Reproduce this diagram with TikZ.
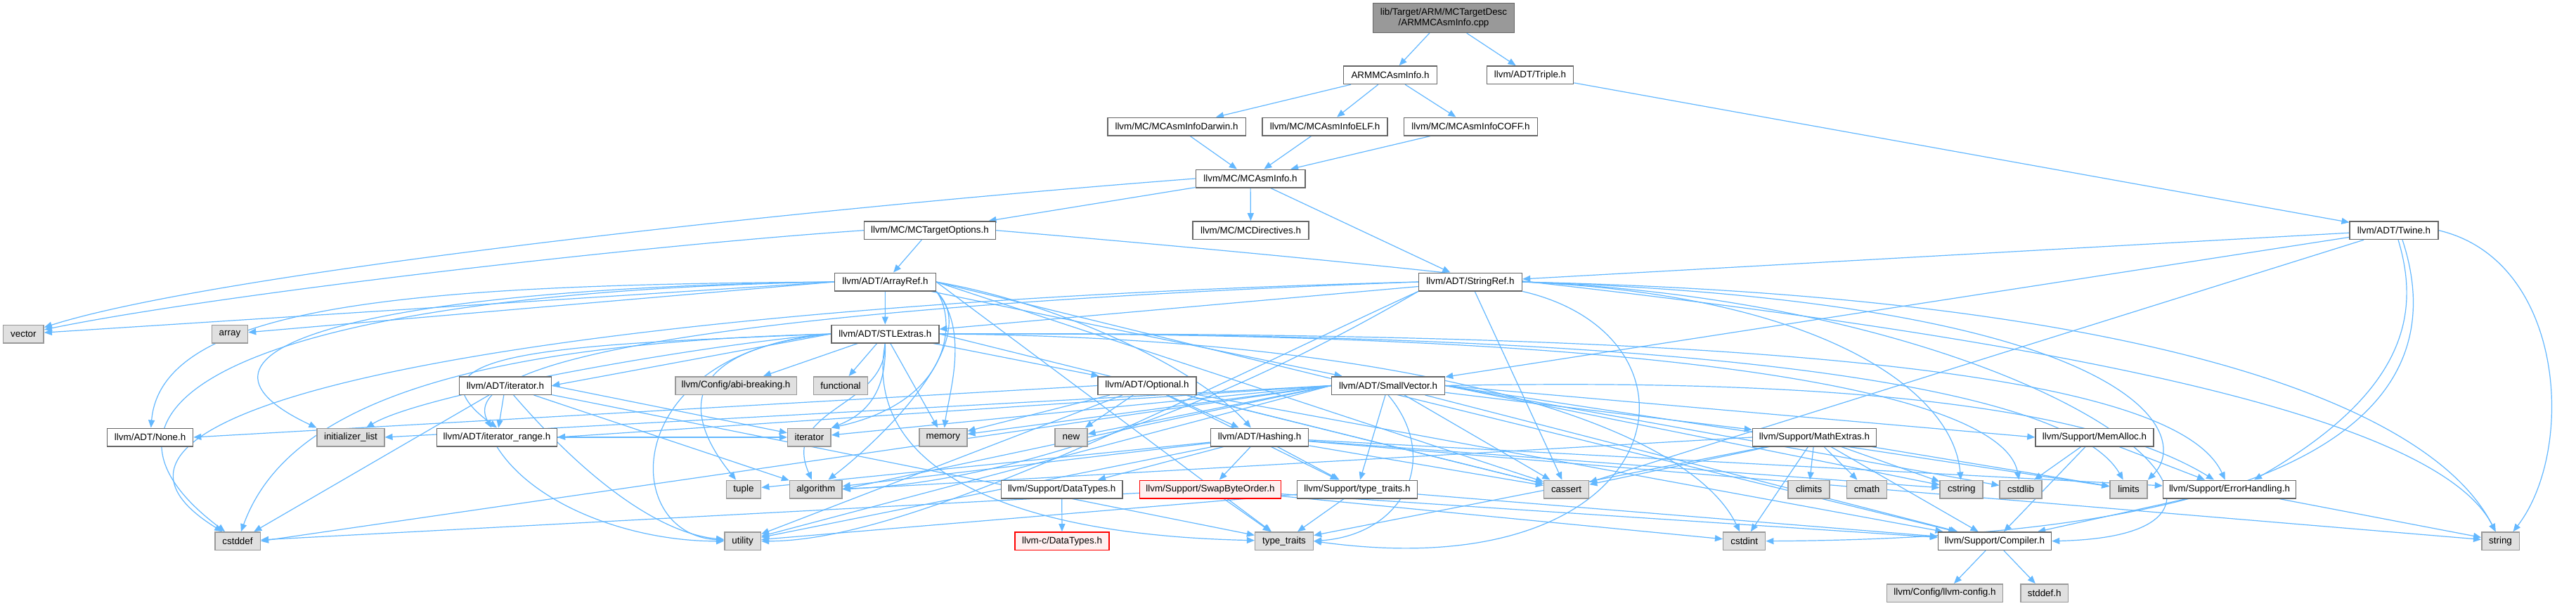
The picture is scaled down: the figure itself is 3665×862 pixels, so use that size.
\documentclass[tikz,border=0pt]{standalone}
\usepackage{fontspec}
\setmainfont{Liberation Sans}
\usetikzlibrary{arrows.meta}
\pgfdeclarelayer{bg}
\pgfdeclarelayer{edges}
\pgfsetlayers{bg,edges,main}
\definecolor{edgec}{HTML}{63B8FF}
\definecolor{nborder}{HTML}{666666}
\definecolor{gborder}{HTML}{999999}
\definecolor{gfill}{HTML}{E0E0E0}
\definecolor{mfill}{HTML}{999999}
\definecolor{rborder}{HTML}{FF0000}
\definecolor{rfill}{HTML}{FFF0F0}
\begin{document}
\begin{tikzpicture}[x=1pt,y=-1pt,
 base/.style={draw, line width=1.5pt, minimum height=25.5pt, inner sep=0pt, font=\fontsize{13.4}{15}\selectfont, anchor=center},
 wnode/.style={base, draw=nborder, fill=white},
 gnode/.style={base, draw=gborder, fill=gfill},
 rnode/.style={base, draw=rborder, fill=rfill},
 mnode/.style={base, draw=nborder, fill=mfill, minimum height=41.6pt, align=center},
 e/.style={draw=edgec, line width=1.2pt, -{Triangle[length=11pt,width=9pt]}}]
\begin{pgfonlayer}{bg}
\fill[white] (0,0) rectangle (3665,862);
\end{pgfonlayer}
\useasboundingbox (0,0) rectangle (3665,862);
% nodes
\node[mnode, minimum width=201pt] (main) at (2054,25.5) {lib/Target/ARM/MCTargetDesc\\/ARMMCAsmInfo.cpp};
\node[wnode, minimum width=133pt] (armh) at (1978,106.7) {ARMMCAsmInfo.h};
\node[wnode, minimum width=123pt] (triple) at (2177,106.7) {llvm/ADT/Triple.h};
\node[wnode, minimum width=196.5pt] (darwin) at (1674,180) {llvm/MC/MCAsmInfoDarwin.h};
\node[wnode, minimum width=178pt] (elf) at (1885,180) {llvm/MC/MCAsmInfoELF.h};
\node[wnode, minimum width=190pt] (coff) at (2092.5,180) {llvm/MC/MCAsmInfoCOFF.h};
\node[wnode, minimum width=155.5pt] (mcasm) at (1779,254) {llvm/MC/MCAsmInfo.h};
\node[wnode, minimum width=187pt] (mcto) at (1323,327.7) {llvm/MC/MCTargetOptions.h};
\node[wnode, minimum width=165pt] (mcdir) at (1779.5,327.7) {llvm/MC/MCDirectives.h};
\node[wnode, minimum width=125.6pt] (twine) at (3406,327.7) {llvm/ADT/Twine.h};
\node[wnode, minimum width=144pt] (arrayref) at (1259.4,401) {llvm/ADT/ArrayRef.h};
\node[wnode, minimum width=147pt] (stringref) at (2092,401) {llvm/ADT/StringRef.h};
\node[gnode, minimum width=57.5pt] (vector) at (33.4,475) {vector};
\node[gnode, minimum width=51pt] (array) at (327,475) {array};
\node[wnode, minimum width=153pt] (stlextras) at (1259.3,475) {llvm/ADT/STLExtras.h};
\node[wnode, minimum width=131pt] (iterh) at (719,548.5) {llvm/ADT/iterator.h};
\node[gnode, minimum width=172.5pt] (abi) at (1047,548.5) {llvm/Config/abi-breaking.h};
\node[gnode, minimum width=77.4pt] (functional) at (1196,548.5) {functional};
\node[wnode, minimum width=139.6pt] (optional) at (1632,548.5) {llvm/ADT/Optional.h};
\node[wnode, minimum width=161pt] (smallvec) at (1975,548.5) {llvm/ADT/SmallVector.h};
\node[wnode, minimum width=122pt] (noneh) at (213.6,622) {llvm/ADT/None.h};
\node[gnode, minimum width=95.6pt] (initlist) at (499,622) {initializer\_list};
\node[wnode, minimum width=170.7pt] (iterrange) at (707,622) {llvm/ADT/iterator\_range.h};
\node[gnode, minimum width=61.6pt] (iterator) at (1151.4,622) {iterator};
\node[gnode, minimum width=68pt] (memory) at (1341.8,622) {memory};
\node[gnode, minimum width=45.8pt] (new) at (1524,622) {new};
\node[wnode, minimum width=139pt] (hashing) at (1792,622) {llvm/ADT/Hashing.h};
\node[wnode, minimum width=176pt] (mathext) at (2581.5,622) {llvm/Support/MathExtras.h};
\node[wnode, minimum width=168pt] (memalloc) at (2980,622) {llvm/Support/MemAlloc.h};
\node[gnode, minimum width=49.3pt] (tuple) at (1058,696) {tuple};
\node[gnode, minimum width=74.5pt] (algorithm) at (1160.8,696) {algorithm};
\node[wnode, minimum width=172.5pt] (datatypes) at (1510.7,696) {llvm/Support/DataTypes.h};
\node[rnode, minimum width=200.7pt] (swap) at (1722,696) {llvm/Support/SwapByteOrder.h};
\node[wnode, minimum width=170.7pt] (sttraits) at (1931,696) {llvm/Support/type\_traits.h};
\node[gnode, minimum width=64pt] (cassert) at (2228.6,696) {cassert};
\node[gnode, minimum width=59pt] (climits) at (2573.6,696) {climits};
\node[gnode, minimum width=57pt] (cmath) at (2656,696) {cmath};
\node[gnode, minimum width=61pt] (cstring) at (2790.7,696) {cstring};
\node[gnode, minimum width=59.7pt] (cstdlib) at (2875,696) {cstdlib};
\node[gnode, minimum width=53pt] (limits) at (3028.5,696) {limits};
\node[wnode, minimum width=189pt] (errh) at (3172,696) {llvm/Support/ErrorHandling.h};
\node[gnode, minimum width=64.5pt] (cstddef) at (338,769.7) {cstddef};
\node[gnode, minimum width=51.6pt] (utility) at (1056.6,769.7) {utility};
\node[rnode, minimum width=134.4pt] (cdatatypes) at (1511,769.7) {llvm-c/DataTypes.h};
\node[gnode, minimum width=82.7pt] (typetraits) at (1827,769.7) {type\_traits};
\node[gnode, minimum width=60pt] (cstdint) at (2481.7,769.7) {cstdint};
\node[wnode, minimum width=161pt] (compiler) at (2838,769.7) {llvm/Support/Compiler.h};
\node[gnode, minimum width=53.5pt] (string) at (3557.5,769.7) {string};
\node[gnode, minimum width=165pt] (llvmconfig) at (2767,843.5) {llvm/Config/llvm-config.h};
\node[gnode, minimum width=67.7pt] (stddef) at (2908.7,843.5) {stddef.h};
\begin{pgfonlayer}{edges}
% top part
\draw[e] (main) -- (armh);
\draw[e] (main) -- (triple);
\draw[e] (armh) -- (darwin);
\draw[e] (armh) -- (elf);
\draw[e] (armh) -- (coff);
\draw[e] (darwin) -- (mcasm);
\draw[e] (elf) -- (mcasm);
\draw[e] (coff) -- (mcasm);
\draw[e] (triple) -- (twine);
\draw[e] (mcasm) -- (mcto);
\draw[e] (mcasm) -- (mcdir);
\draw[e] (mcasm) -- (stringref);
\draw[e] (mcasm.west) .. controls (1100,300) and (300,390) .. (vector);
\draw[e] (mcto.west) .. controls (900,350) and (300,420) .. (vector);
\draw[e] (mcto) -- (arrayref);
\draw[e] (mcto.east) .. controls (2700,436) and (3450,560) .. (string);
% twine
\draw[e] (twine) -- (stringref);
\draw[e] (twine) -- (smallvec);
\draw[e] (twine) -- (cassert);
\draw[e] ([xshift=6pt]twine.south) .. controls (3445,450) and (3420,560) .. ([xshift=35pt]errh.north);
\draw[e] ([xshift=12pt]twine.south) .. controls (3490,560) and (3330,765) .. (cstdint.east);
\draw[e] (twine.east) .. controls (3650,370) and (3665,640) .. ([xshift=18pt]string.north);
% arrayref
\draw[e] (arrayref) -- (stlextras);
\draw[e] (arrayref) -- (smallvec);
\draw[e] (arrayref.east) .. controls (1500,430) and (1700,520) .. (hashing);
\draw[e] (arrayref.west) .. controls (600,405) and (230,430) .. (noneh);
\draw[e] (arrayref.west) -- (array);
\draw[e] (arrayref.west) -- (vector);
\draw[e] (arrayref.west) .. controls (500,410) and (220,500) .. (initlist.north west);
\draw[e] (arrayref.west) .. controls (400,415) and (60,560) .. (cstddef);
\draw[e] (arrayref.south east) .. controls (1360,450) and (1360,570) .. (iterator.north east);
\draw[e] (arrayref.south east) .. controls (1380,470) and (1350,560) .. (memory);
\draw[e] (arrayref.south east) .. controls (1400,480) and (1260,620) .. (algorithm);
\draw[e] (arrayref.east) -- (cassert);
\draw[e] (arrayref.east) -- (typetraits);
\draw[e] (arrayref.east) -- (compiler);
% stlextras
\draw[e] (stlextras) -- (optional);
\draw[e] (stlextras.west) -- (iterh.east);
\draw[e] (stlextras.west) .. controls (800,490) and (560,500) .. (iterrange.north);
\draw[e] (stlextras) -- (abi);
\draw[e] (stlextras) -- (functional);
\draw[e] (stlextras.east) .. controls (2600,470) and (3100,540) .. (errh);
\draw[e] (stlextras.south) .. controls (1262,580) and (1110,580) .. (algorithm);
\draw[e] (stlextras.east) -- (cassert);
\draw[e] (stlextras.west) .. controls (600,490) and (400,600) .. (cstddef);
\draw[e] (stlextras.east) .. controls (2000,480) and (2400,600) .. (cstdint);
\draw[e] (stlextras.east) .. controls (2400,470) and (2850,560) .. (cstdlib);
\draw[e] (stlextras.west) .. controls (1000,490) and (600,560) .. (initlist);
\draw[e] (stlextras.south) .. controls (1262,560) and (1230,590) .. (iterator.north east);
\draw[e] (stlextras.east) .. controls (2500,470) and (2950,560) .. (limits);
\draw[e] (stlextras) -- (memory);
\draw[e] (stlextras.west) .. controls (950,500) and (980,600) .. (tuple);
\draw[e] (stlextras.south) .. controls (1230,650) and (1400,760) .. (typetraits);
\draw[e] (stlextras.west) .. controls (880,500) and (880,760) .. (utility);
% stringref
\draw[e] (stringref) -- (stlextras);
\draw[e] (stringref.west) .. controls (1500,420) and (620,470) .. (iterrange);
\draw[e] (stringref.east) .. controls (2900,430) and (3330,760) .. (compiler.east);
\draw[e] (stringref.south west) .. controls (1700,600) and (1400,690) .. (algorithm);
\draw[e] (stringref) -- (cassert);
\draw[e] (stringref.west) .. controls (900,430) and (0,560) .. (cstddef);
\draw[e] (stringref.east) .. controls (2600,420) and (2780,560) .. (cstring);
\draw[e] (stringref.east) .. controls (3050,430) and (3120,620) .. (limits.north east);
\draw[e] (stringref.east) .. controls (3000,420) and (3450,560) .. (string);
\draw[e] (stringref.south east) .. controls (2450,480) and (2380,840) .. (typetraits.east);
\draw[e] (stringref.south west) .. controls (1700,560) and (1300,770) .. (utility);
% smallvec
\draw[e] (smallvec.west) -- (iterrange.east);
\draw[e] (smallvec) -- (compiler);
\draw[e] (smallvec.east) .. controls (2500,540) and (2950,560) .. (errh);
\draw[e] (smallvec) -- (mathext);
\draw[e] (smallvec.east) -- (memalloc.west);
\draw[e] (smallvec) -- (sttraits);
\draw[e] (smallvec.west) -- (algorithm.east);
\draw[e] (smallvec) -- (cassert);
\draw[e] (smallvec.west) -- (cstddef.east);
\draw[e] (smallvec.east) -- (cstdlib);
\draw[e] (smallvec.east) -- (cstring);
\draw[e] (smallvec.west) -- (initlist.east);
\draw[e] (smallvec.west) -- (iterator);
\draw[e] (smallvec.east) -- (limits);
\draw[e] (smallvec.west) -- (memory);
\draw[e] (smallvec.west) -- (new);
\draw[e] (smallvec.south) .. controls (2050,650) and (2000,760) .. (typetraits.east);
\draw[e] (smallvec.west) -- (utility);
% optional
\draw[e] (optional.west) -- (noneh.east);
\draw[e] (optional) -- (hashing);
\draw[e] (optional) -- (compiler);
\draw[e] (optional) -- (sttraits);
\draw[e] (optional) -- (cassert);
\draw[e] (optional) -- (memory);
\draw[e] (optional) -- (new);
\draw[e] (optional) -- (utility);
% hashing
\draw[e] (hashing) -- (datatypes);
\draw[e] (hashing) -- (errh);
\draw[e] (hashing) -- (swap);
\draw[e] (hashing) -- (sttraits);
\draw[e] (hashing) -- (algorithm);
\draw[e] (hashing) -- (cassert);
\draw[e] (hashing) -- (cstring);
\draw[e] (hashing) -- (string);
\draw[e] (hashing) -- (tuple);
\draw[e] (hashing) -- (utility);
% iterator.h
\draw[e] (iterh) -- (iterrange);
\draw[e] (iterh) -- (cstddef);
\draw[e] (iterh.east) -- (iterator);
\draw[e] (iterh) -- (algorithm);
\draw[e] (iterh) -- (typetraits);
\draw[e] (iterh) .. controls (850,700) and (950,760) .. (utility);
% iterator_range.h
\draw[e] (iterrange) -- (iterator);
\draw[e] (iterrange.south) .. controls (760,720) and (900,770) .. (utility);
% mathextras
\draw[e] (mathext) -- (compiler);
\draw[e] (mathext.west) -- (algorithm.east);
\draw[e] (mathext) -- (cassert);
\draw[e] (mathext) -- (climits);
\draw[e] (mathext) -- (cmath);
\draw[e] (mathext) -- (cstdint);
\draw[e] (mathext) -- (cstring);
\draw[e] (mathext) -- (limits);
\draw[e] (mathext) -- (typetraits);
% memalloc
\draw[e] (memalloc) -- (compiler);
\draw[e] (memalloc) -- (errh);
\draw[e] (memalloc) -- (cstdlib);
% errorhandling
\draw[e] (errh) -- (compiler);
\draw[e] (errh) -- (string);
% compiler
\draw[e] (compiler) -- (llvmconfig);
\draw[e] (compiler) -- (stddef);
% support type_traits
\draw[e] (sttraits) -- (compiler);
\draw[e] (sttraits) -- (typetraits);
\draw[e] (sttraits) -- (utility);
% swapbyteorder
\draw[e] (swap) -- (typetraits);
\draw[e] (swap) -- (cstddef);
\draw[e] (swap) -- (cstdint);
\draw[e] (swap) -- (compiler);
% datatypes
\draw[e] (datatypes) -- (cdatatypes);
\end{pgfonlayer}
\end{tikzpicture}
\end{document}
